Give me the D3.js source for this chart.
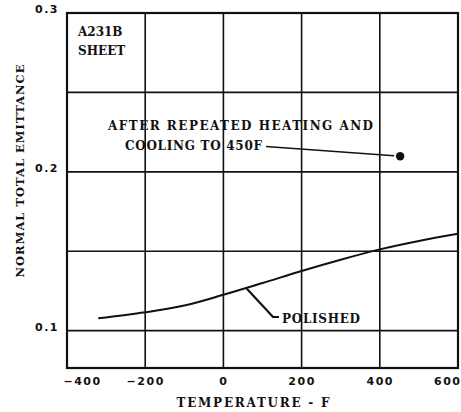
<!DOCTYPE html>
<meta charset="utf-8">
<style>
body { margin: 0; background: #fff; }
.lbl { font-family: "DejaVu Serif", serif; font-weight: bold; fill: #111; }
.tick text { font-family: "DejaVu Sans", sans-serif; font-weight: bold; font-size: 11px; letter-spacing: 1.5px; fill: #111; }
</style>
<body>
<div id="graph"></div>
<script src="https://d3js.org/d3.v7.min.js"></script>
<script>
// polished curve
var temps = [-320, -200, -100, 0, 100, 200, 300, 400, 500, 600];
var emittance = [0.1078, 0.1116, 0.1158, 0.1226, 0.130, 0.1376, 0.1447, 0.1512, 0.1565, 0.161];
// single point after heating / cooling
var heatedTemp = [452];
var heatedValue = [0.2098];
var xTicks = [-400, -200, 0, 200, 400, 600];
var yTicks = [0.1, 0.2, 0.3];
var yGrid = [0.1, 0.15, 0.2, 0.25];

var width = 461, height = 412;
var plot = {left: 67, right: 458, top: 13, bottom: 368};

var svg = d3.select("#graph").append("svg")
    .attr("width", width)
    .attr("height", height);

var x = d3.scaleLinear().domain([-400, 600]).range([plot.left, plot.right]);
var y = d3.scaleLinear().domain([0.0765, 0.3]).range([plot.bottom, plot.top]);

// grid
svg.selectAll(".vgrid")
    .data(xTicks.slice(1, -1))
    .enter().append("line")
    .attr("x1", function(d) { return x(d); })
    .attr("x2", function(d) { return x(d); })
    .attr("y1", plot.top).attr("y2", plot.bottom)
    .attr("stroke", "#111").attr("stroke-width", 1.6);

svg.selectAll(".hgrid")
    .data(yGrid)
    .enter().append("line")
    .attr("y1", function(d) { return y(d); })
    .attr("y2", function(d) { return y(d); })
    .attr("x1", plot.left).attr("x2", plot.right)
    .attr("stroke", "#111").attr("stroke-width", 1.6);

// frame
svg.append("rect")
    .attr("x", plot.left).attr("y", plot.top)
    .attr("width", plot.right - plot.left).attr("height", plot.bottom - plot.top)
    .attr("fill", "none").attr("stroke", "#111").attr("stroke-width", 2.2);

// axes (labels only)
var xAxis = svg.append("g")
    .attr("transform", "translate(0," + plot.bottom + ")")
    .call(d3.axisBottom(x).tickValues(xTicks).tickSize(0).tickPadding(9));
xAxis.select(".domain").remove();
xAxis.selectAll(".tick text")
    .attr("text-anchor", function(d) { return d === -400 ? "start" : d === 600 ? "end" : "middle"; })
    .attr("dx", function(d) { return d === -400 ? -4 : d === 600 ? 3 : 0; });

var yAxis = svg.append("g")
    .attr("transform", "translate(" + plot.left + ",0)")
    .call(d3.axisLeft(y).tickValues(yTicks).tickSize(0).tickPadding(8).tickFormat(d3.format(".1f")));
yAxis.select(".domain").remove();
yAxis.selectAll(".tick text").attr("dy", "-0.05em");

// curve
var pts = temps.map(function(t, i) { return [t, emittance[i]]; });
svg.append("path")
    .datum(pts)
    .attr("fill", "none")
    .attr("stroke", "#111")
    .attr("stroke-width", 2)
    .attr("d", d3.line()
        .x(function(d) { return x(d[0]); })
        .y(function(d) { return y(d[1]); })
        .curve(d3.curveMonotoneX));

// heated point
svg.selectAll(".dot")
    .data(heatedTemp)
    .enter().append("circle")
    .attr("cx", function(d) { return x(d); })
    .attr("cy", function(d, i) { return y(heatedValue[i]); })
    .attr("r", 4.2)
    .attr("fill", "#111");

// annotation text
svg.append("text").attr("class", "lbl")
    .attr("x", 78).attr("y", 36).attr("font-size", 12)
    .text("A231B");
svg.append("text").attr("class", "lbl")
    .attr("x", 78).attr("y", 55).attr("font-size", 12)
    .text("SHEET");

svg.append("text").attr("class", "lbl")
    .attr("x", 108).attr("y", 130).attr("font-size", 12)
    .attr("textLength", 265).attr("lengthAdjust", "spacing")
    .text("AFTER REPEATED HEATING AND");
svg.append("text").attr("class", "lbl")
    .attr("x", 125).attr("y", 150).attr("font-size", 12)
    .attr("textLength", 137).attr("lengthAdjust", "spacing")
    .text("COOLING TO 450F");

// leader to the dot
svg.append("line")
    .attr("x1", 266).attr("y1", 146.5)
    .attr("x2", x(heatedTemp[0]) - 6).attr("y2", y(heatedValue[0]) - 0.5)
    .attr("stroke", "#111").attr("stroke-width", 1.6);

// polished label + leader (starts on the curve near 60 F)
svg.append("text").attr("class", "lbl")
    .attr("x", 282).attr("y", 323).attr("font-size", 12)
    .attr("textLength", 78).attr("lengthAdjust", "spacing")
    .text("POLISHED");
svg.append("path")
    .attr("d", "M" + x(60) + "," + (y(0.127) + 1) + " L273,317 L279,317")
    .attr("fill", "none").attr("stroke", "#111").attr("stroke-width", 2.2);

// axis titles
svg.append("text").attr("class", "lbl")
    .attr("x", 253).attr("y", 407).attr("font-size", 12)
    .attr("text-anchor", "middle")
    .attr("textLength", 153).attr("lengthAdjust", "spacing")
    .text("TEMPERATURE - F");

svg.append("text").attr("class", "lbl")
    .attr("transform", "translate(24,171) rotate(-90)")
    .attr("font-size", 11.5)
    .attr("text-anchor", "middle")
    .attr("textLength", 213).attr("lengthAdjust", "spacing")
    .text("NORMAL TOTAL EMITTANCE");
</script>
</body>
